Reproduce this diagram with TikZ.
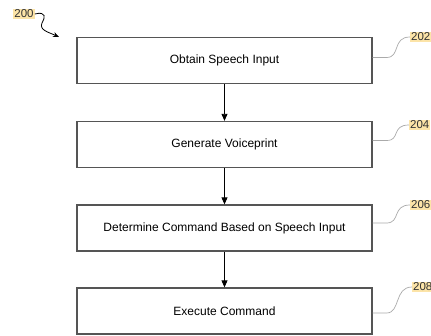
\documentclass[tikz,border=0pt]{standalone}
\usepackage{fontspec}
\setmainfont{Liberation Sans}
\usetikzlibrary{arrows.meta}
\definecolor{refhi}{RGB}{252,228,168}
\definecolor{refline}{RGB}{85,85,85}
\definecolor{leadline}{RGB}{170,170,170}
\begin{document}
\begin{tikzpicture}[x=1pt,y=-1pt,
  stepbox/.style={draw=refline,line width=1.3pt,fill=white,minimum width=295pt,minimum height=46pt,inner sep=0pt,font=\fontsize{12}{14}\selectfont},
  reflabel/.style={fill=refhi,inner sep=1pt,anchor=west,text=black!80,font=\fontsize{11.5}{13}\selectfont},
  flow/.style={-{Triangle[length=7pt,width=6pt]},line width=0.9pt},
  lead/.style={draw=leadline,line width=0.7pt}]
\useasboundingbox (0,0) rectangle (431,336);
\node[stepbox] (obtain) at (224.5,60.5) {Obtain Speech Input};
\node[stepbox] (voice) at (224.5,144.5) {Generate Voiceprint};
\node[stepbox] (determine) at (224.5,228) {Determine Command Based on Speech Input};
\node[stepbox] (execute) at (224.5,311) {Execute Command};
\draw[flow] (obtain) -- (voice);
\draw[flow] (voice) -- (determine);
\draw[flow] (determine) -- (execute);
% reference numerals
\node[reflabel,anchor=center] (n200) at (24,14) {200};
\coordinate (c200) at (59,37);
\draw[-{Stealth[length=6pt,width=5pt]},line width=0.8pt] (n200.east) .. controls (47,11) and (45,18) .. (42,23) .. controls (39,30) and (48,32) .. (c200);
\node[reflabel] (n202) at (410,37) {202};
\node[reflabel] (n204) at (409,125) {204};
\node[reflabel] (n206) at (410,205) {206};
\node[reflabel] (n208) at (412,287) {208};
\draw[lead] ([yshift=3pt]obtain.east) -- +(14,0) .. controls +(14,0) and (392,37) .. (n202.west);
\draw[lead] ([yshift=4pt]voice.east) -- +(14,0) .. controls +(14,0) and (391,125) .. (n204.west);
\draw[lead] ([yshift=5pt]determine.east) -- +(14,0) .. controls +(14,0) and (392,205) .. (n206.west);
\draw[lead] ([yshift=-2pt]execute.east) -- +(14,0) .. controls +(14,0) and (394,287) .. (n208.west);
\end{tikzpicture}
\end{document}
